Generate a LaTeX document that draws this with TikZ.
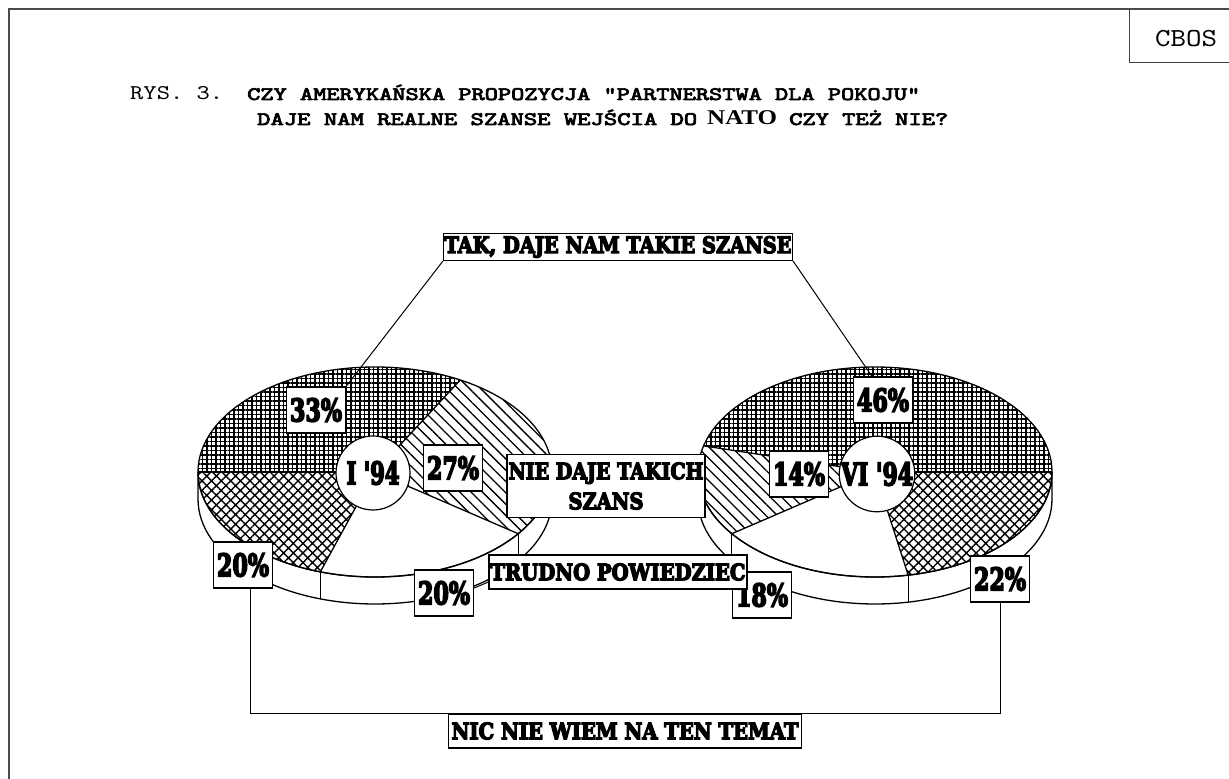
\documentclass[tikz,border=0pt]{standalone}
\usepackage{fontspec}
\usepackage{graphicx}
\usepackage{tikz}
\usetikzlibrary{patterns.meta}

\newfontfamily\rysfont{lmmono10-regular.otf}
\newfontfamily\rysbold{lmmono10-regular.otf}[FakeBold=3.5]
\newfontfamily\chartfont{DejaVu Serif}[BoldFeatures={FakeBold=6}]
\newfontfamily\natofont{Liberation Serif}

\newcommand\pct[2][52pt]{\resizebox{#1}{\height}{\chartfont\bfseries\fontsize{31}{31}\selectfont #2}}
\newcommand\lbl[2]{\resizebox{#1}{\height}{\chartfont\bfseries\fontsize{22.5}{22.5}\selectfont #2}}
\newcommand\thin[3]{\resizebox{#1}{\height}{\rysfont\fontsize{#2}{#2}\selectfont #3}}
\newcommand\thick[2]{\resizebox{#1}{\height}{\rysbold\fontsize{19}{19}\selectfont #2}}

\def\rx{177 }
\def\ry{105 }
\def\pdp{27 }

\begin{document}
\begin{tikzpicture}[x=1pt,y=1pt,
    pie/.style={line width=1.3pt},
    fgrid/.style={pattern={Hatch[angle=0,distance=4.5pt,line width=1.1pt]}},
    fhatch/.style={pattern={Lines[angle=-45,distance=8pt,line width=1.3pt]}},
    fcross/.style={pattern={Hatch[angle=45,distance=6.8pt,line width=1.4pt]}},
    pbox/.style={draw, fill=white, line width=1.2pt, inner sep=0pt, minimum width=59pt, minimum height=46pt},
    tbox/.style={draw, fill=white, line width=1.2pt, inner xsep=1pt, inner ysep=0pt},
    ring/.style={circle, draw, fill=white, line width=1.2pt, inner sep=0pt, minimum size=74pt},
    lead/.style={line width=1pt}]
  \useasboundingbox (0,0) rectangle (1229,779);
  % page frame
  \draw[line width=1.2pt, black!70] (9,0) -- (9,770) -- (1229,770);
  \draw[line width=1pt, black!75] (1129,770) -- (1129,716) -- (1229,716);
  \node[inner sep=0] (cbos) at (1186,740) {\thin{62pt}{26}{CBOS}};

  % title
  \node[anchor=base west, inner sep=0] (rys) at (130,679) {\thin{93pt}{21}{RYS. 3.}};
  \node[anchor=base west, inner sep=0] (q1) at (247,679) {\thick{673pt}{CZY AMERYKAŃSKA PROPOZYCJA "PARTNERSTWA DLA POKOJU"}};
  \node[anchor=base west, inner sep=0] (q2) at (257,654) {\thick{440pt}{DAJE NAM REALNE SZANSE WEJŚCIA DO}};
  \node[anchor=base west, inner sep=0] (nato) at (707,654) {\resizebox{70pt}{\height}{\natofont\bfseries\fontsize{21}{21}\selectfont NATO}};
  \node[anchor=base west, inner sep=0] (q3) at (789,654) {\thick{159pt}{CZY TEŻ NIE?}};

  % left pie, I '94
  \coordinate (L) at (375,307);
  \draw[pie, fill=white] (L) ++(180:\rx and \ry) arc[start angle=180, end angle=360, x radius=\rx, y radius=\ry]
      -- ++(0,-\pdp) arc[start angle=360, end angle=180, x radius=\rx, y radius=\ry] -- cycle;
  \foreach \a in {-108,-36} \draw[pie] (L) ++(\a:\rx and \ry) -- ++(0,-\pdp);
  \fill[fgrid] (L) -- ++(180:\rx and \ry) arc[start angle=180, end angle=61.2, x radius=\rx, y radius=\ry] -- cycle;
  \fill[fhatch] (L) -- ++(61.2:\rx and \ry) arc[start angle=61.2, end angle=-36, x radius=\rx, y radius=\ry] -- cycle;
  \fill[fcross] (L) -- ++(-108:\rx and \ry) arc[start angle=-108, end angle=-180, x radius=\rx, y radius=\ry] -- cycle;
  \draw[pie] (L) ellipse[x radius=\rx, y radius=\ry];
  \foreach \a in {180,61.2,-36,-108} \draw[pie] (L) -- ++(\a:\rx and \ry);
  \node[ring] (lc) at (373,306) {\pct[53pt]{I '94}};

  % right pie, VI '94
  \coordinate (R) at (875,307);
  \draw[pie, fill=white] (R) ++(180:\rx and \ry) arc[start angle=180, end angle=360, x radius=\rx, y radius=\ry]
      -- ++(0,-\pdp) arc[start angle=360, end angle=180, x radius=\rx, y radius=\ry] -- cycle;
  \foreach \a in {216,280.8} \draw[pie] (R) ++(\a:\rx and \ry) -- ++(0,-\pdp);
  \fill[fgrid] (R) -- ++(0:\rx and \ry) arc[start angle=0, end angle=165.6, x radius=\rx, y radius=\ry] -- cycle;
  \fill[fhatch] (R) -- ++(165.6:\rx and \ry) arc[start angle=165.6, end angle=216, x radius=\rx, y radius=\ry] -- cycle;
  \fill[fcross] (R) -- ++(280.8:\rx and \ry) arc[start angle=280.8, end angle=360, x radius=\rx, y radius=\ry] -- cycle;
  \draw[pie] (R) ellipse[x radius=\rx, y radius=\ry];
  \foreach \a in {0,165.6,216,280.8} \draw[pie] (R) -- ++(\a:\rx and \ry);
  \node[ring] (rc) at (877,305) {\pct[72pt]{VI '94}};

  % value boxes
  \node[pbox] (l33) at (316,369) {\pct{33\%}};
  \node[pbox] (l27) at (453,311) {\pct{27\%}};
  \node[pbox] (l20a) at (243,214) {\pct{20\%}};
  \node[pbox] (l20b) at (444,186) {\pct{20\%}};
  \node[pbox] (r46) at (883,379) {\pct{46\%}};
  \node[pbox] (r14) at (799,305) {\pct{14\%}};
  \node[pbox] (r18) at (762,184) {\pct{18\%}};
  \node[pbox] (r22) at (1000,200) {\pct{22\%}};

  % answer boxes
  \node[tbox, minimum width=349pt, minimum height=27pt] (tak) at (618,532) {\lbl{347pt}{TAK, DAJE NAM TAKIE SZANSE}};
  \node[tbox, minimum width=198pt, minimum height=63pt, align=center, font=\fontsize{21}{30}\selectfont] (nie) at (606,293) {\lbl{195pt}{NIE DAJE TAKICH}\\\lbl{75pt}{SZANS}};
  \node[tbox, minimum width=258pt, minimum height=34pt] (trud) at (618,207) {\lbl{255pt}{TRUDNO POWIEDZIEC}};
  \node[tbox, minimum width=353pt, minimum height=34pt] (nic) at (625,48) {\lbl{347pt}{NIC NIE WIEM NA TEN TEMAT}};

  % leaders
  \draw[lead] (tak.south west) -- (l33.north east);
  \draw[lead] (tak.south east) -- ([xshift=-11pt]r46.north);
  \draw[lead] ([yshift=5pt]l20b.east) -- ([yshift=-10pt]trud.west);
  \draw[lead] ([xshift=7pt]l20a.south) |- (nic.north) -| (r22.south);
\end{tikzpicture}
\end{document}
